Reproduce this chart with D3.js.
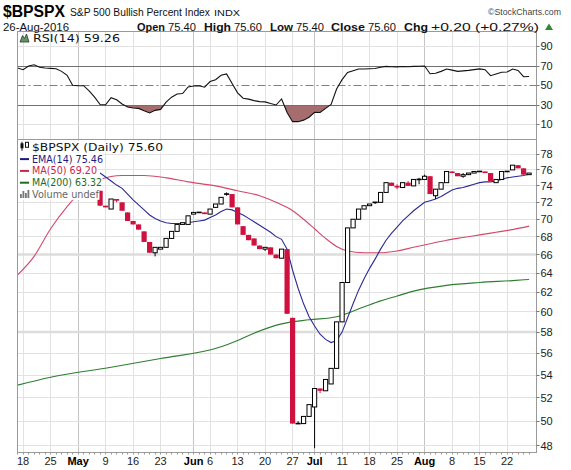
<!DOCTYPE html>
<html>
<head>
<meta charset="utf-8">
<script src="https://cdn.jsdelivr.net/npm/d3@7/dist/d3.min.js"></script>
<style>
  body { margin: 0; background: #fff; }
  svg { display: block; }
  text { font-family: "Liberation Sans", Arial, sans-serif; }
</style>
</head>
<body>
<div id="chart"></div>
<script>
// trading calendar shown on the chart
const firstDay = "2016-04-15", lastDay = "2016-08-26";
const holidays = ["2016-05-30", "2016-07-04"];

// daily candles, first one on 6 May (earlier ones sit under the legend)
const candleStart = "2016-05-06";
const opens = [73.4,71.6,71.2,72.4,72.0,70.8,69.8,69.4,68.6,67.4,
  66.2,66.6,66.8,67.8,68.6,69.4,69.4,70.6,70.8,70.8,
  70.6,71.4,71.8,73.0,73.0,71.4,69.2,68.2,67.8,67.0,
  66.6,66.8,66.0,65.6,66.6,59.4,49.8,49.8,50.4,51.2,
  52.8,52.6,53.2,54.6,59.0,63.0,69.0,70.0,71.2,71.6,
  72.0,72.0,73.2,74.4,74.0,73.8,74.4,74.0,74.8,74.8,
  75.2,72.8,73.6,74.4,75.8,75.6,75.2,75.4,75.6,75.8,
  75.8,75.6,74.4,74.8,75.8,76.0,76.6,76.2,75.4];
const highs = [73.4,71.6,72.4,72.4,72.0,70.8,69.8,69.4,68.6,67.4,
  66.8,66.8,67.8,68.6,69.4,69.6,70.4,70.8,70.8,70.8,
  71.2,71.8,72.6,73.2,73.0,71.4,69.2,68.2,67.8,67.0,
  66.8,66.8,66.0,66.6,66.6,59.4,50.0,50.4,51.4,52.8,
  52.8,53.6,54.6,59.0,63.0,69.0,70.0,71.2,71.6,71.8,
  72.0,73.2,74.4,74.4,74.2,74.4,74.6,74.8,75.0,75.4,
  75.2,73.6,74.4,75.8,75.8,75.6,75.6,75.6,75.8,75.8,
  75.8,75.6,74.8,75.8,75.8,76.6,76.6,76.2,75.6];
const lows = [71.6,71.4,71.2,72.0,71.0,69.8,69.4,68.8,67.4,66.2,
  65.8,66.6,66.8,67.8,68.6,69.4,69.4,70.6,70.8,70.6,
  70.6,71.4,71.8,72.8,71.4,69.4,68.2,67.6,67.0,66.6,
  66.4,66.0,65.6,65.6,59.8,49.8,49.8,49.8,50.4,47.8,
  52.4,52.6,53.2,54.6,59.0,63.0,69.0,70.0,71.2,71.6,
  71.8,72.0,73.2,74.0,73.6,73.8,74.0,74.0,74.2,74.8,
  73.0,72.4,73.6,74.4,75.6,75.2,75.0,75.4,75.6,75.8,
  75.6,74.6,74.4,74.8,75.8,76.0,76.2,75.4,75.4];
const closes = [71.6,71.4,72.4,72.2,71.0,69.8,69.4,68.8,67.4,66.2,
  66.8,66.8,67.8,68.6,69.4,69.6,70.4,70.8,70.8,70.6,
  71.2,71.8,72.6,73.0,71.4,69.4,68.2,67.6,67.0,66.6,
  66.8,66.0,65.6,66.6,59.8,49.8,49.8,50.4,51.4,52.8,
  52.6,53.6,54.6,59.0,63.0,69.0,70.0,71.2,71.6,71.8,
  72.0,73.2,74.4,74.0,73.8,74.4,74.0,74.8,74.8,75.2,
  73.0,73.6,74.4,75.8,75.6,75.2,75.4,75.6,75.8,75.8,
  75.6,74.6,74.8,75.8,75.8,76.6,76.2,75.4,75.6];

// EMA(14), same days as the candles
const ema14 = [75.6,75.1,74.6,74.1,73.7,73.0,72.3,71.7,71.1,70.5,
  70.1,69.8,69.6,69.5,69.5,69.5,69.6,69.7,69.8,69.9,
  70.2,70.5,70.9,71.2,71.1,70.8,70.5,70.1,69.7,69.3,
  68.9,68.5,68.0,67.7,66.6,64.3,62.4,60.8,59.5,58.6,
  57.8,57.3,57.0,57.2,58.0,59.4,60.8,62.2,63.4,64.5,
  65.5,66.6,67.6,68.4,69.1,69.8,70.4,71.0,71.5,72.0,
  72.2,72.4,72.7,73.1,73.5,73.7,73.8,74.0,74.2,74.4,
  74.5,74.5,74.6,74.8,75.0,75.1,75.2,75.3,75.46];

// moving averages read at some days
const ma50Dates = ["2016-04-15","2016-04-20","2016-04-25","2016-04-28","2016-05-03","2016-05-06",
  "2016-05-12","2016-05-18","2016-05-24","2016-05-31","2016-06-07","2016-06-13","2016-06-17",
  "2016-06-22","2016-06-27","2016-06-29","2016-07-01","2016-07-06","2016-07-08","2016-07-12",
  "2016-07-15","2016-07-20","2016-07-25","2016-07-28","2016-08-02","2016-08-05","2016-08-10",
  "2016-08-15","2016-08-18","2016-08-23","2016-08-26"];
const ma50 = [63.8,65.8,68.9,71.5,73.6,74.8,75.3,75.3,75.0,74.5,74.0,73.4,72.8,72.0,71.0,70.0,
  68.9,67.8,66.9,66.4,66.2,66.2,66.4,66.8,67.2,67.6,67.9,68.2,68.5,68.8,69.2];
const ma200Dates = ["2016-04-15","2016-04-25","2016-05-10","2016-05-23","2016-06-08","2016-06-13",
  "2016-06-16","2016-06-23","2016-06-30","2016-07-08","2016-07-15","2016-07-20","2016-07-25",
  "2016-07-28","2016-08-05","2016-08-15","2016-08-23","2016-08-26"];
const ma200 = [53.1,53.8,54.7,55.5,56.6,57.2,57.9,58.8,59.2,59.5,60.5,61.1,61.6,62.1,62.7,63.0,63.2,63.32];

// RSI(14) from 15 Apr
const rsiStart = "2016-04-15";
const rsi14 = [67.9,66.2,70.0,71.3,68.8,68.0,67.6,67.2,64.5,60.5,
  50.2,49.8,49.8,44.5,38.0,30.5,30.2,37.5,35.4,31.0,
  28.0,27.0,26.5,24.0,21.8,24.5,25.5,33.0,38.0,41.3,
  41.8,48.5,49.5,49.8,48.3,54.0,56.0,60.5,61.8,52.0,
  42.5,37.0,36.0,34.5,33.5,33.2,31.5,30.0,36.2,22.4,
  12.9,12.9,14.5,17.5,22.5,22.3,26.5,30.5,46.4,56.0,
  63.4,65.2,66.9,67.0,67.2,67.4,68.8,69.6,69.3,69.1,
  69.5,69.2,69.6,69.7,70.0,62.1,62.5,64.5,66.9,65.8,
  64.5,65.0,65.5,66.3,67.0,66.2,60.1,61.8,63.6,63.8,
  66.9,65.5,59.0,59.26];

const priceTicks = [48,50,52,54,56,58,60,62,64,66,68,70,72,74,76,78];
const rsiTicks = [10,30,50,70,90];

// ---------------------------------------------------------------
const W = 571, H = 470;
const L = 17.5, R = 536.5;
const rsiTop = 31.5, rsiBot = 139.5, mainBot = 452.5;
const RED = "#cf1140";

const parse = d3.timeParse("%Y-%m-%d");
const fmt = d3.timeFormat("%Y-%m-%d");
const days = d3.timeDay.range(parse(firstDay), d3.timeDay.offset(parse(lastDay), 1))
  .filter(d => d.getDay() !== 0 && d.getDay() !== 6 && !holidays.includes(fmt(d)));
const pos = new Map(days.map((d, i) => [fmt(d), i]));

const x = d3.scaleLinear().domain([-0.11, 94.44]).range([17, 537]);
const y = d3.scaleLog().domain([48, 78]).range([445.7, 154.3]);
const yr = d3.scaleLinear().domain([0, 100]).range([134.25, 36.75]);

const svg = d3.select("#chart").append("svg").attr("width", W).attr("height", H);
svg.append("rect").attr("width", W).attr("height", H).attr("fill", "#fff");

const defs = svg.append("defs");
defs.append("clipPath").attr("id", "clipMain").append("rect")
  .attr("x", L).attr("y", rsiBot).attr("width", R - L).attr("height", mainBot - rsiBot);
defs.append("clipPath").attr("id", "clipRsi").append("rect")
  .attr("x", L).attr("y", rsiTop).attr("width", R - L).attr("height", rsiBot - rsiTop);
defs.append("clipPath").attr("id", "clipUnder").append("rect")
  .attr("x", L).attr("y", yr(30)).attr("width", R - L).attr("height", rsiBot - yr(30));

const crisp = v => Math.round(v - 0.5) + 0.5;

// x ticks: first trading day of a month, or a Monday
const ticks = [];
days.forEach((d, i) => {
  if (i === 0) return;
  const newMonth = d.getMonth() !== days[i - 1].getMonth();
  if (newMonth) ticks.push({ i, label: d3.timeFormat("%b")(d), month: true });
  else if (d.getDay() === 1) ticks.push({ i, label: String(d.getDate()), month: false });
});

// vertical grid in both panels
const grid = svg.append("g");
ticks.forEach(t => {
  grid.append("line")
    .attr("x1", crisp(x(t.i))).attr("x2", crisp(x(t.i)))
    .attr("y1", rsiTop).attr("y2", mainBot)
    .attr("stroke", t.month ? "#c4c4c4" : "#e2e2e2");
});
// horizontal grid
priceTicks.forEach(v => {
  grid.append("line").attr("x1", L).attr("x2", R)
    .attr("y1", crisp(y(v))).attr("y2", crisp(y(v)))
    .attr("stroke", "#e2e2e2");
});
[66, 58].forEach(v => {
  grid.append("line").attr("x1", L).attr("x2", R)
    .attr("y1", y(v)).attr("y2", y(v))
    .attr("stroke", "#dddddd").attr("stroke-width", 2.5);
});
[90, 10].forEach(v => {
  grid.append("line").attr("x1", L).attr("x2", R)
    .attr("y1", crisp(yr(v))).attr("y2", crisp(yr(v)))
    .attr("stroke", "#e2e2e2");
});

// RSI panel
const rsiData = rsi14.map((v, i) => ({ k: pos.get(rsiStart) + i, v }));
const gR = svg.append("g").attr("clip-path", "url(#clipRsi)");
gR.append("path").datum(rsiData)
  .attr("clip-path", "url(#clipUnder)")
  .attr("fill", "#a56d6d")
  .attr("d", d3.area().x(d => x(d.k)).y0(yr(30)).y1(d => yr(d.v)));
gR.append("line").attr("x1", L).attr("x2", R).attr("y1", crisp(yr(70))).attr("y2", crisp(yr(70)))
  .attr("stroke", "#707070");
gR.append("line").attr("x1", L).attr("x2", R).attr("y1", crisp(yr(30))).attr("y2", crisp(yr(30)))
  .attr("stroke", "#707070");
gR.append("line").attr("x1", L).attr("x2", R).attr("y1", crisp(yr(50))).attr("y2", crisp(yr(50)))
  .attr("stroke", "#808080").attr("stroke-dasharray", "8,3,2,3");
gR.append("path").datum(rsiData)
  .attr("fill", "none").attr("stroke", "#111").attr("stroke-width", 1.1)
  .attr("d", d3.line().x(d => x(d.k)).y(d => yr(d.v)));

// main panel lines
const gM = svg.append("g").attr("clip-path", "url(#clipMain)");
const maLine = d3.line().curve(d3.curveMonotoneX).x(d => x(d.k)).y(d => y(d.v));
gM.append("path").datum(ma50Dates.map((s, i) => ({ k: pos.get(s), v: ma50[i] })))
  .attr("fill", "none").attr("stroke", "#d4486a").attr("stroke-width", 1.1).attr("d", maLine);
gM.append("path").datum(ma200Dates.map((s, i) => ({ k: pos.get(s), v: ma200[i] })))
  .attr("fill", "none").attr("stroke", "#2f7d2f").attr("stroke-width", 1.1).attr("d", maLine);
gM.append("path").datum(ema14.map((v, i) => ({ k: pos.get(candleStart) + i, v })))
  .attr("fill", "none").attr("stroke", "#2b2b96").attr("stroke-width", 1.1)
  .attr("d", d3.line().x(d => x(d.k)).y(d => y(d.v)));

// candles
const k0 = pos.get(candleStart);
opens.forEach((o, i) => {
  const c = closes[i], hi = highs[i], lo = lows[i];
  const red = i === 0 ? true : c < closes[i - 1];
  const col = red ? RED : "#000";
  const cx = x(k0 + i);
  gM.append("line").attr("x1", cx).attr("x2", cx).attr("y1", y(hi)).attr("y2", y(lo))
    .attr("stroke", col).attr("stroke-width", 1);
  const top = y(Math.max(o, c)), bot = y(Math.min(o, c));
  if (c < o) {
    gM.append("rect").attr("x", cx - 2.6).attr("width", 5.2)
      .attr("y", top).attr("height", Math.max(bot - top, 1.5)).attr("fill", col);
  } else if (c > o) {
    gM.append("rect").attr("x", cx - 2.1).attr("width", 4.2)
      .attr("y", top).attr("height", Math.max(bot - top, 1))
      .attr("fill", "#fff").attr("stroke", col).attr("stroke-width", 1);
  } else {
    gM.append("rect").attr("x", cx - 2.6).attr("width", 5.2)
      .attr("y", top - 0.8).attr("height", 1.6).attr("fill", col);
  }
});

// legend of the price panel
const legend = svg.append("g");
const rows = [
  { t: "$BPSPX (Daily) 75.60", col: "#111", base: 150.8, len: 131, kind: "candle" },
  { t: "EMA(14) 75.46", col: "#1c1c80", base: 162.6, len: 71, kind: "line" },
  { t: "MA(50) 69.20", col: "#c8264d", base: 174.4, len: 65, kind: "line" },
  { t: "MA(200) 63.32", col: "#1d6b1d", base: 186.2, len: 70, kind: "line" },
  { t: "Volume undef", col: "#666", base: 198.0, len: 67, kind: "bars" }
];
rows.forEach(r => {
  legend.append("rect").attr("x", L + 0.5).attr("y", r.base - 10)
    .attr("width", 32 + r.len - L).attr("height", 11.8).attr("fill", "#fff");
});
rows.forEach(r => {
  if (r.kind === "line") {
    legend.append("line").attr("x1", 20).attr("x2", 29).attr("y1", r.base - 3.5).attr("y2", r.base - 3.5)
      .attr("stroke", r.col).attr("stroke-width", 2);
  } else if (r.kind === "candle") {
    legend.append("rect").attr("x", 20.5).attr("y", r.base - 7.5).attr("width", 3).attr("height", 5)
      .attr("fill", "#111");
    legend.append("rect").attr("x", 25.5).attr("y", r.base - 8.5).attr("width", 3).attr("height", 5)
      .attr("fill", "#fff").attr("stroke", "#111");
    legend.append("line").attr("x1", 22).attr("x2", 22).attr("y1", r.base - 9).attr("y2", r.base)
      .attr("stroke", "#111");
  } else {
    [[20, 4], [22.5, 7], [25, 5], [27.5, 8]].forEach(b => {
      legend.append("rect").attr("x", b[0]).attr("y", r.base - b[1]).attr("width", 1.8)
        .attr("height", b[1]).attr("fill", "#777");
    });
  }
  legend.append("text").attr("x", 32).attr("y", r.base)
    .attr("textLength", r.len).attr("lengthAdjust", "spacingAndGlyphs")
    .style("font-family", "'DejaVu Sans', sans-serif").style("font-size", "10.5px")
    .attr("fill", r.col).text(r.t);
});

// RSI label
svg.append("path").attr("d", "M20,42 L22.5,35.5 L24.5,38.5 L26.5,34 L29,42 Z")
  .attr("fill", "#5d9a5d").attr("stroke", "#333").attr("stroke-width", 0.8);
svg.append("text").attr("x", 33).attr("y", 41.5)
  .attr("textLength", 87).attr("lengthAdjust", "spacingAndGlyphs")
  .style("font-family", "'DejaVu Sans', sans-serif").style("font-size", "11px")
  .attr("fill", "#111").text("RSI(14) 59.26");

// frames
svg.append("rect").attr("x", L).attr("y", rsiTop).attr("width", R - L).attr("height", rsiBot - rsiTop)
  .attr("fill", "none").attr("stroke", "#9a9a9a");
svg.append("rect").attr("x", L).attr("y", rsiBot).attr("width", R - L).attr("height", mainBot - rsiBot)
  .attr("fill", "none").attr("stroke", "#9a9a9a");

// right axes
const axisTxt = (g) => g.style("font-size", "11px").attr("fill", "#222");
priceTicks.forEach(v => {
  svg.append("line").attr("x1", R).attr("x2", R + 3).attr("y1", crisp(y(v))).attr("y2", crisp(y(v)))
    .attr("stroke", "#777");
  svg.append("text").attr("x", R + 4).attr("y", y(v)).attr("dy", "0.36em")
    .call(axisTxt).text(v);
});
rsiTicks.forEach(v => {
  svg.append("line").attr("x1", R).attr("x2", R + 3).attr("y1", crisp(yr(v))).attr("y2", crisp(yr(v)))
    .attr("stroke", "#777");
  svg.append("text").attr("x", R + 4).attr("y", yr(v)).attr("dy", "0.36em")
    .call(axisTxt).text(v);
});

// bottom axis: a small tick for every trading day, labels at Mondays and months
days.forEach((d, i) => {
  svg.append("line").attr("x1", crisp(x(i))).attr("x2", crisp(x(i)))
    .attr("y1", mainBot).attr("y2", mainBot + 2).attr("stroke", "#999");
});
ticks.forEach(t => {
  svg.append("text").attr("x", x(t.i)).attr("y", 464.5).attr("text-anchor", "middle")
    .style("font-size", "11px").style("font-weight", t.month ? "bold" : "normal")
    .attr("fill", t.month ? "#000" : "#222").text(t.label);
});

// header
const head = (s, xPos, yPos, len, size, bold, col) =>
  svg.append("text").attr("x", xPos).attr("y", yPos)
    .attr("textLength", len).attr("lengthAdjust", "spacingAndGlyphs")
    .style("font-size", size + "px").style("font-weight", bold ? "bold" : "normal")
    .attr("fill", col || "#111").text(s);

head("$BPSPX", 3, 17, 62, 16, true, "#000");
head("S&P 500 Bullish Percent Index", 70, 16, 140, 10, false);
head("INDX", 214, 16, 26, 8.5, false);
head("\u00A9StockCharts.com", 488, 14.5, 73, 9.5, false, "#444");
head("26-Aug-2016", 3, 30.5, 66, 11, false);

const quote = [
  ["Open", 137, 28, true], ["75.40", 168, 28, false],
  ["High", 204, 27, true], ["75.60", 234, 28, false],
  ["Low", 270, 23, true], ["75.40", 296, 28, false],
  ["Close", 331, 34, true], ["75.60", 368, 28, false],
  ["Chg", 404, 24, true], ["+0.20 (+0.27%)", 431, 108, false]
];
quote.forEach(p => head(p[0], p[1], 30.5, p[2], 11, p[3]));
svg.append("path").attr("d", "M545,30 L549,23.5 L553,30 Z").attr("fill", "#2e8b2e");
</script>
</body>
</html>
